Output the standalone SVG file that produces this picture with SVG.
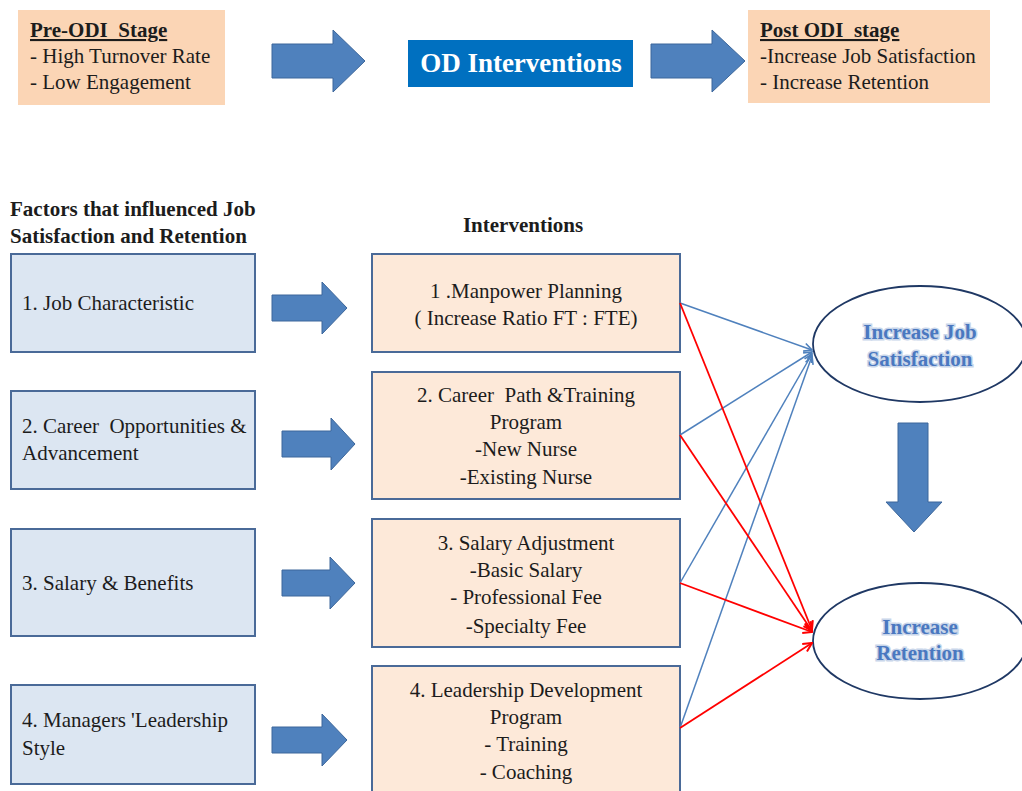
<svg xmlns="http://www.w3.org/2000/svg" width="1022" height="791" viewBox="0 0 1022 791">
<style>
.t{font-family:"Liberation Serif","Times New Roman",serif;font-size:21px;fill:#1c1c1c;white-space:pre}
.b{font-weight:bold}
.u{text-decoration:underline}
.peach{fill:#fbd5b5}
.lb{fill:#dce6f2;stroke:#4a6a98;stroke-width:2}
.pb{fill:#fde9d9;stroke:#4a6a98;stroke-width:2}
.ar{fill:#4f81bd;stroke:#3d679b;stroke-width:1}
.el{fill:#fff;stroke:#1f3864;stroke-width:1.8}
.et{font-family:"Liberation Serif","Times New Roman",serif;font-size:21px;font-weight:bold;fill:#4a78c0;stroke:#c9d6ea;stroke-width:3;paint-order:stroke}
.bl{stroke:#4f81bd;stroke-width:1.5;fill:none;marker-end:url(#mb)}
.rd{stroke:#ff0000;stroke-width:1.8;fill:none;marker-end:url(#mr)}
</style>
<defs>
<marker id="mb" viewBox="0 0 10 10" refX="9" refY="5" markerWidth="10" markerHeight="10" markerUnits="userSpaceOnUse" orient="auto">
<path d="M1,1 L9,5 L1,9" fill="none" stroke="#4f81bd" stroke-width="1.6"/>
</marker>
<marker id="mr" viewBox="0 0 10 10" refX="9" refY="5" markerWidth="11" markerHeight="11" markerUnits="userSpaceOnUse" orient="auto">
<path d="M1,1 L9,5 L1,9" fill="none" stroke="#ff0000" stroke-width="1.8"/>
</marker>
</defs>
<rect width="1022" height="791" fill="#fff"/>

<g id="pre-odi">
<rect class="peach" x="18" y="10" width="207" height="95"/>
<text class="t b u" x="30" y="37" xml:space="preserve">Pre-ODI  Stage</text>
<text class="t" x="30" y="63">- High Turnover Rate</text>
<text class="t" x="30" y="89">- Low Engagement</text>
</g>
<g id="top-arrow-1"><polygon class="ar" points="272,44 333,44 333,30 365,61 333,92 333,78 272,78"/></g>
<g id="od-interventions">
<rect x="408" y="40" width="225" height="47" fill="#0070c0"/>
<text x="521" y="72" text-anchor="middle" font-family="Liberation Serif, Times New Roman, serif" font-size="27" font-weight="bold" fill="#fff">OD Interventions</text>
</g>
<g id="top-arrow-2"><polygon class="ar" points="651,44 712,44 712,30 745,61 712,92 712,78 651,78"/></g>
<g id="post-odi">
<rect class="peach" x="748" y="10" width="242" height="93"/>
<text class="t b u" x="760" y="37" xml:space="preserve">Post ODI  stage</text>
<text class="t" x="760" y="63">-Increase Job Satisfaction</text>
<text class="t" x="760" y="89">- Increase Retention</text>
</g>

<g id="factors-heading">
<text class="t b" x="10" y="216">Factors that influenced Job</text>
<text class="t b" x="10" y="243">Satisfaction and Retention</text>
</g>
<g id="interventions-heading"><text class="t b" x="523" y="232" text-anchor="middle">Interventions</text></g>

<g id="factor-1"><rect class="lb" x="11" y="254" width="244" height="98"/><text class="t" x="22" y="310">1. Job Characteristic</text></g>
<g id="factor-2"><rect class="lb" x="11" y="391" width="244" height="98"/><text class="t" x="22" y="433" xml:space="preserve">2. Career  Opportunities &amp;</text><text class="t" x="22" y="460">Advancement</text></g>
<g id="factor-3"><rect class="lb" x="11" y="529" width="244" height="107"/><text class="t" x="22" y="590">3. Salary &amp; Benefits</text></g>
<g id="factor-4"><rect class="lb" x="11" y="685" width="244" height="99"/><text class="t" x="22" y="727">4. Managers 'Leadership</text><text class="t" x="22" y="755">Style</text></g>

<g id="arrow-1"><polygon class="ar" points="272,295 322,295 322,282 347,308 322,334 322,321 272,321"/></g>
<g id="arrow-2"><polygon class="ar" points="282,431 331,431 331,418 355,444 331,470 331,457 282,457"/></g>
<g id="arrow-3"><polygon class="ar" points="282,570 330,570 330,557 355,583 330,609 330,596 282,596"/></g>
<g id="arrow-4"><polygon class="ar" points="272,727 322,727 322,714 347,740 322,766 322,753 272,753"/></g>

<g id="intervention-1"><rect class="pb" x="372" y="254" width="308" height="98"/>
<text class="t" x="526" y="298" text-anchor="middle">1 .Manpower Planning</text>
<text class="t" x="526" y="325" text-anchor="middle">( Increase Ratio FT : FTE)</text></g>
<g id="intervention-2"><rect class="pb" x="372" y="372" width="308" height="127"/>
<text class="t" x="526" y="402" text-anchor="middle" xml:space="preserve">2. Career  Path &amp;Training</text>
<text class="t" x="526" y="429" text-anchor="middle">Program</text>
<text class="t" x="526" y="456" text-anchor="middle">-New Nurse</text>
<text class="t" x="526" y="484" text-anchor="middle">-Existing Nurse</text></g>
<g id="intervention-3"><rect class="pb" x="372" y="519" width="308" height="128"/>
<text class="t" x="526" y="550" text-anchor="middle">3. Salary Adjustment</text>
<text class="t" x="526" y="577" text-anchor="middle">-Basic Salary</text>
<text class="t" x="526" y="604" text-anchor="middle">- Professional Fee</text>
<text class="t" x="526" y="633" text-anchor="middle">-Specialty Fee</text></g>
<g id="intervention-4"><rect class="pb" x="372" y="666" width="308" height="140"/>
<text class="t" x="526" y="697" text-anchor="middle">4. Leadership Development</text>
<text class="t" x="526" y="724" text-anchor="middle">Program</text>
<text class="t" x="526" y="751" text-anchor="middle">- Training</text>
<text class="t" x="526" y="779" text-anchor="middle">- Coaching</text></g>

<g id="job-satisfaction"><ellipse class="el" cx="920" cy="344" rx="107" ry="58"/>
<text class="et" x="920" y="339" text-anchor="middle">Increase Job</text>
<text class="et" x="920" y="366" text-anchor="middle">Satisfaction</text></g>
<g id="down-arrow"><polygon class="ar" points="898,423 928,423 928,502 942,502 914,532 886,502 898,502"/></g>
<g id="retention"><ellipse class="el" cx="920" cy="641" rx="107" ry="58"/>
<text class="et" x="920" y="634" text-anchor="middle">Increase</text>
<text class="et" x="920" y="660" text-anchor="middle">Retention</text></g>

<g id="connectors">
<line class="bl" x1="680" y1="303" x2="812" y2="350"/>
<line class="bl" x1="680" y1="435" x2="812" y2="352"/>
<line class="bl" x1="680" y1="583" x2="812" y2="354"/>
<line class="bl" x1="680" y1="728" x2="812" y2="356"/>
<line class="rd" x1="680" y1="303" x2="812" y2="630"/>
<line class="rd" x1="680" y1="435" x2="812" y2="631"/>
<line class="rd" x1="680" y1="583" x2="812" y2="632"/>
<line class="rd" x1="680" y1="728" x2="812" y2="643"/>
</g>
</svg>
